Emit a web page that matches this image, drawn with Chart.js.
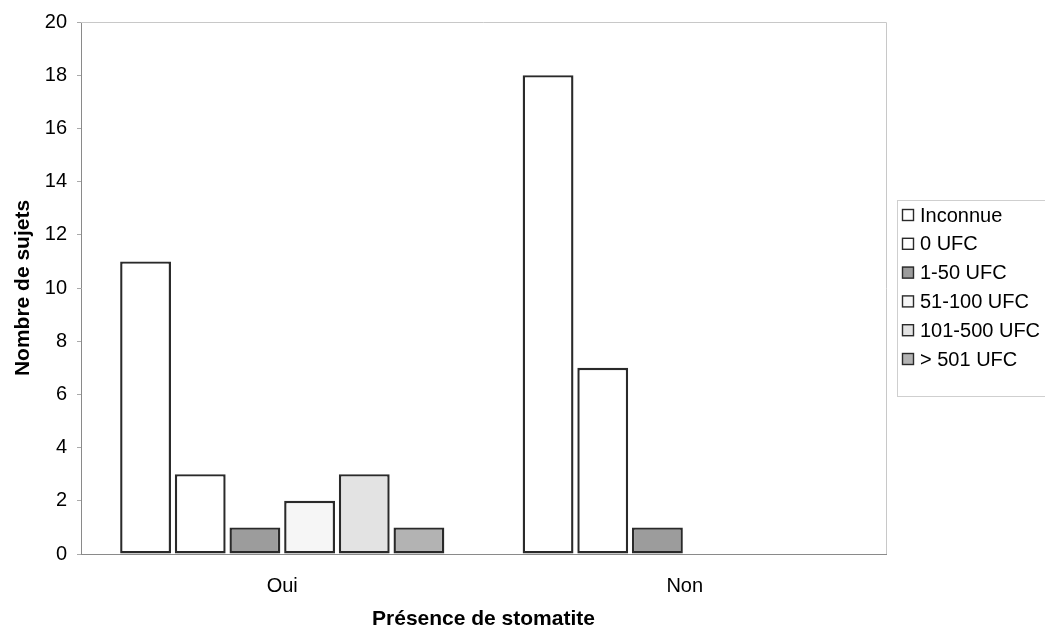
<!DOCTYPE html>
<html>
<head>
<meta charset="utf-8">
<script src="https://cdn.jsdelivr.net/npm/chart.js@4"></script>
<style>
  html, body { margin: 0; padding: 0; background: #fff; }
  #wrap { width: 1045px; height: 632px; position: relative; }
</style>
</head>
<body>
<div id="wrap"><canvas id="c" width="1045" height="632"></canvas></div>
<script>
// Categories and series
const categories = ['Oui', 'Non'];
const seriesLabels = ['Inconnue', '0 UFC', '1-50 UFC', '51-100 UFC', '101-500 UFC', '> 501 UFC'];
const inconnue = [11, 18];
const ufc0 = [3, 7];
const ufc1to50 = [1, 1];
const ufc51to100 = [2, 0];
const ufc101to500 = [3, 0];
const ufcOver501 = [1, 0];
const yTicks = [0, 2, 4, 6, 8, 10, 12, 14, 16, 18, 20];

const fills = ['#ffffff', '#ffffff', '#9c9c9c', '#f6f6f6', '#e3e3e3', '#b3b3b3'];
const seriesValues = [inconnue, ufc0, ufc1to50, ufc51to100, ufc101to500, ufcOver501];

const FONT = "'Liberation Sans', Arial, sans-serif";

const datasets = seriesLabels.map((label, i) => ({
  label,
  data: seriesValues[i],
  backgroundColor: fills[i],
  borderColor: '#2a2a2a',
  borderWidth: ctx => (ctx.raw ? 2.4 : 0),
  borderSkipped: false,
  categoryPercentage: 0.815,
  barPercentage: 0.93
}));

// Frame lines on the top and right of the plot area
const framePlugin = {
  id: 'frame',
  beforeDatasetsDraw(chart) {
    const { ctx, chartArea: a } = chart;
    ctx.save();
    ctx.strokeStyle = '#c8c8c8';
    ctx.lineWidth = 1;
    ctx.beginPath();
    ctx.moveTo(a.left, a.top + 0.5);
    ctx.lineTo(a.right + 0.5, a.top + 0.5);
    ctx.lineTo(a.right + 0.5, a.bottom);
    ctx.stroke();
    ctx.restore();
  }
};

// Boxed legend on the right, built from the datasets
const legendPlugin = {
  id: 'boxLegend',
  afterDraw(chart) {
    const { ctx } = chart;
    const x0 = 897, y0 = 200, w = 160, h = 196;
    ctx.save();
    ctx.strokeStyle = '#cfcfcf';
    ctx.lineWidth = 1;
    ctx.strokeRect(x0 + 0.5, y0 + 0.5, w, h);
    ctx.font = '20px ' + FONT;
    ctx.textBaseline = 'middle';
    ctx.textAlign = 'left';
    chart.data.datasets.forEach((ds, i) => {
      const cy = 215 + i * 28.8;
      ctx.fillStyle = ds.backgroundColor;
      ctx.fillRect(902, cy - 6, 12, 12);
      ctx.strokeStyle = '#2a2a2a';
      ctx.lineWidth = 1.4;
      ctx.strokeRect(902.5, cy - 5.5, 11, 11);
      ctx.fillStyle = '#000000';
      ctx.fillText(ds.label, 920, cy + 1);
    });
    ctx.restore();
  }
};

new Chart(document.getElementById('c'), {
  type: 'bar',
  data: { labels: categories, datasets },
  options: {
    responsive: false,
    animation: false,
    layout: { padding: { top: 20, right: 159, bottom: 0, left: 0 } },
    plugins: {
      legend: { display: false },
      tooltip: { enabled: false }
    },
    scales: {
      x: {
        grid: { display: false },
        border: { display: true, color: '#8a8a8a', width: 1 },
        ticks: { color: '#000', font: { family: FONT, size: 20 }, padding: 12 },
        title: {
          display: true,
          text: 'Présence de stomatite',
          color: '#000',
          font: { family: FONT, size: 21, weight: 'bold' },
          padding: { top: 0, bottom: 0 }
        },
        afterFit(scale) { scale.height = 78; }
      },
      y: {
        min: 0,
        max: 20,
        afterBuildTicks(scale) { scale.ticks = yTicks.map(v => ({ value: v })); },
        grid: { display: true, drawOnChartArea: false, drawTicks: true, tickLength: 4, color: '#aaaaaa' },
        border: { display: true, color: '#8a8a8a', width: 1 },
        ticks: { color: '#000', font: { family: FONT, size: 20 }, padding: 10 },
        title: {
          display: true,
          text: 'Nombre de sujets',
          color: '#000',
          font: { family: FONT, size: 21, weight: 'bold' },
          padding: { top: 11, bottom: 0 }
        },
        afterFit(scale) { scale.width = 81; }
      }
    }
  },
  plugins: [framePlugin, legendPlugin]
});
</script>
</body>
</html>
